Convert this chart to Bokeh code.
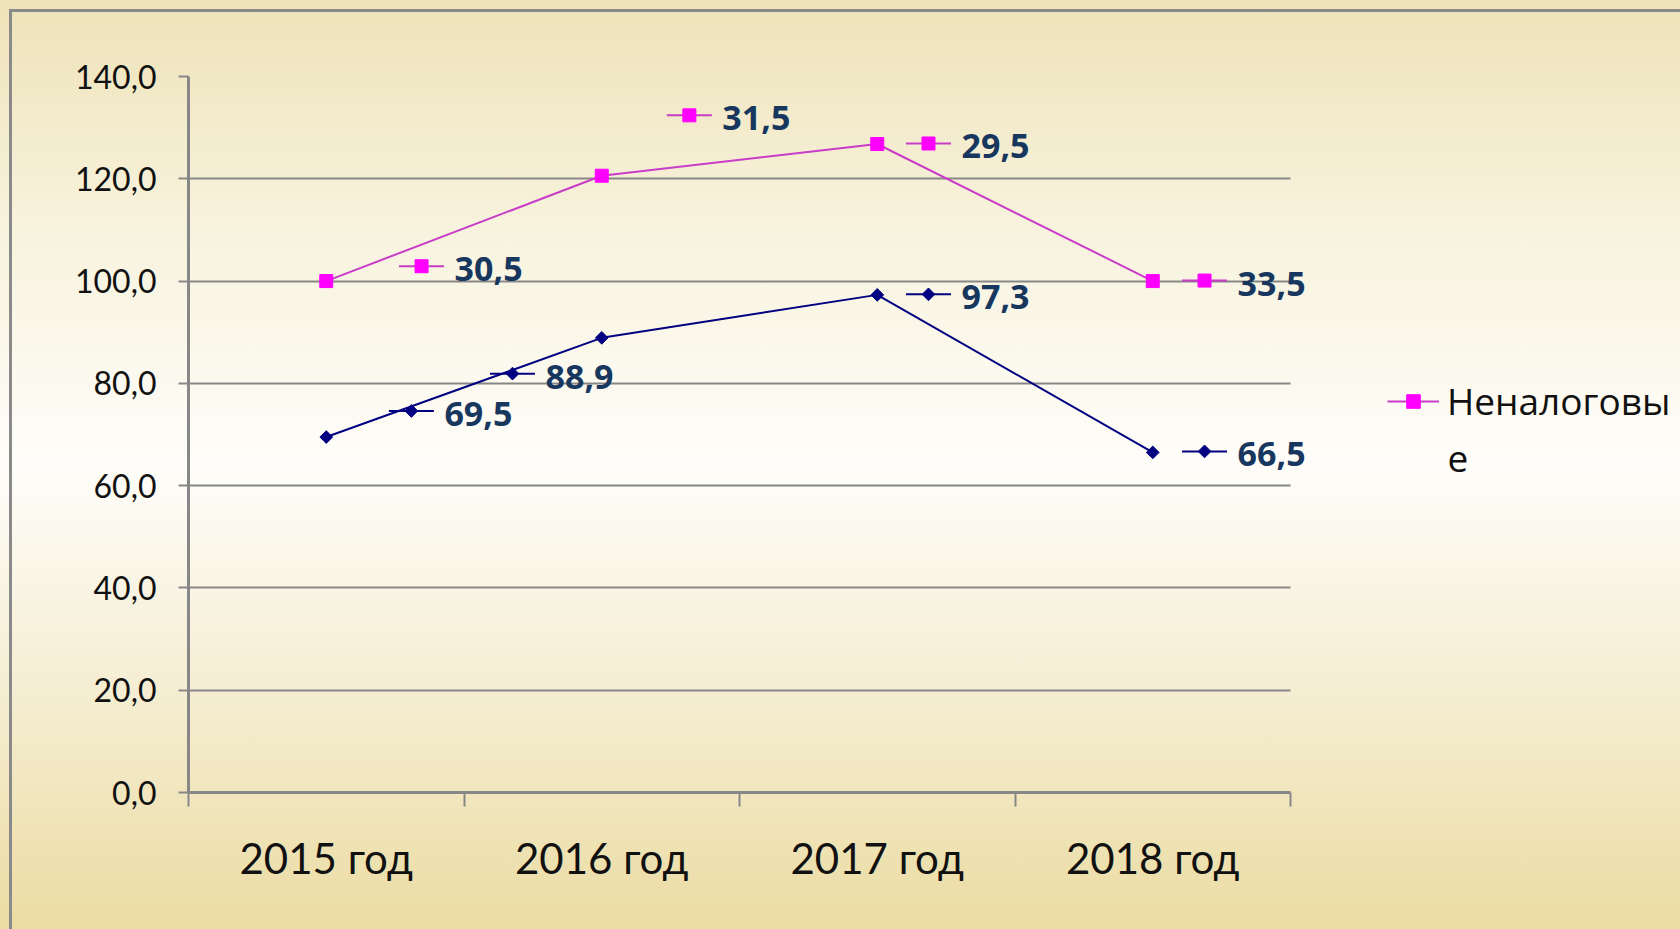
from bokeh.plotting import figure
from bokeh.models import (Range1d, FixedTicker, CustomJSTickFormatter, Legend,
                          LegendItem, ColumnDataSource, Label)
from bokeh.core.properties import value
from bokeh.embed import file_html
from bokeh.resources import INLINE
import math

# ---- data ----
categories = ["2015 год", "2016 год", "2017 год", "2018 год"]
nontax_values = [100.0, 120.6, 126.8, 100.0]
navy_values = [69.5, 88.9, 97.3, 66.5]
y_ticks = [0, 20, 40, 60, 80, 100, 120, 140]

nontax_labels = ["30,5", "31,5", "29,5", "33,5"]
nontax_label_x = [0.846, 1.818, 2.686, 3.688]
nontax_label_y = [102.9, 132.4, 126.9, 100.1]

navy_labels = ["69,5", "88,9", "97,3", "66,5"]
navy_label_x = [0.809, 1.176, 2.686, 3.688]
navy_label_y = [74.6, 81.9, 97.4, 66.7]

series_name = "Неналоговые"   # wrapped in the legend as "Неналоговы" / "е"

# ---- styles ----
GRID = "#878787"
MAGENTA_LINE = "#C83CC8"
MAGENTA = "#FF00FF"
NAVY = "#000080"
LABEL_COLOR = "#17375E"
TEXT = "#111111"

n = len(categories)
x_centers = [i + 0.5 for i in range(n)]

AXIS_PX = 1102          # width of the category axis in pixels
FRAME_W = 1492          # frame runs to the right edge (room for labels/legend)
x_end = n * FRAME_W / AXIS_PX

p = figure(width=1680, height=929, frame_width=FRAME_W, frame_height=716,
           min_border_left=188, min_border_right=0, min_border_top=76,
           min_border_bottom=137,
           x_range=Range1d(0, x_end), y_range=Range1d(0, 140),
           output_backend="svg", toolbar_location=None, tools="")

p.border_fill_color = None
p.background_fill_color = None
p.outline_line_color = None
p.styles = {
    "background": (
        "linear-gradient(#8a8a8a,#8a8a8a) 9px 9px / 100% 3px no-repeat, "
        "linear-gradient(#8a8a8a,#8a8a8a) 9px 9px / 3px 100% no-repeat, "
        "linear-gradient(to bottom, #EEE2B8 0%, #F8F3DE 25%, #FEFDF9 50%, "
        "#F6EFD6 72%, #EBDCA3 100%)"
    )
}

# axes
p.yaxis.ticker = FixedTicker(ticks=y_ticks)
p.yaxis.formatter = CustomJSTickFormatter(code="return tick.toFixed(1).replace('.', ',');")
p.yaxis.major_label_text_font = "Lato"
p.yaxis.major_label_text_font_size = "32px"
p.yaxis.major_label_text_color = TEXT
p.yaxis.major_label_standoff = 22
p.yaxis.major_tick_out = 10
p.yaxis.major_tick_in = 0
p.yaxis.minor_tick_line_color = None
p.yaxis.major_tick_line_color = GRID
p.yaxis.major_tick_line_width = 2
p.yaxis.axis_line_color = GRID
p.yaxis.axis_line_width = 3

p.xaxis.bounds = (0, n)
p.xaxis.ticker = FixedTicker(ticks=x_centers, minor_ticks=list(range(n + 1)))
p.xaxis.formatter = CustomJSTickFormatter(args=dict(labels=categories),
                                          code="return labels[Math.floor(tick)];")
p.xaxis.major_label_text_font = "Lato"
p.xaxis.major_label_text_font_size = "42px"
p.xaxis.major_label_text_color = TEXT
p.xaxis.major_label_standoff = 26
p.xaxis.major_tick_line_color = None
p.xaxis.major_tick_out = 14
p.xaxis.minor_tick_out = 14
p.xaxis.minor_tick_in = 0
p.xaxis.minor_tick_line_color = GRID
p.xaxis.minor_tick_line_width = 2
p.xaxis.axis_line_color = GRID
p.xaxis.axis_line_width = 3

p.xgrid.grid_line_color = None
p.ygrid.grid_line_color = GRID
p.ygrid.grid_line_width = 2
p.ygrid.cross_bounds = (0, n)

# series
nav_src = ColumnDataSource(dict(x=x_centers, y=navy_values))
nt_src = ColumnDataSource(dict(x=x_centers, y=nontax_values))

p.line("x", "y", source=nav_src, line_color=NAVY, line_width=2)
p.scatter("x", "y", source=nav_src, marker="square", angle=math.pi / 4, size=9,
          fill_color=NAVY, line_color=NAVY)

nt_line = p.line("x", "y", source=nt_src, line_color=MAGENTA_LINE, line_width=2)
nt_marks = p.scatter("x", "y", source=nt_src, marker="square", size=13,
                     fill_color=MAGENTA, line_color=MAGENTA)

# data labels with keys
nt_lab = ColumnDataSource(dict(x=nontax_label_x, y=nontax_label_y, t=nontax_labels))
nav_lab = ColumnDataSource(dict(x=navy_label_x, y=navy_label_y, t=navy_labels))

p.scatter("x", "y", source=nt_lab, marker="dash", size=45, line_color=MAGENTA_LINE, line_width=2)
p.scatter("x", "y", source=nt_lab, marker="square", size=13, fill_color=MAGENTA, line_color=MAGENTA)
p.scatter("x", "y", source=nav_lab, marker="dash", size=45, line_color=NAVY, line_width=2)
p.scatter("x", "y", source=nav_lab, marker="square", angle=math.pi / 4, size=9,
          fill_color=NAVY, line_color=NAVY)

for src in (nt_lab, nav_lab):
    p.text("x", "y", text="t", source=src, x_offset=33, y_offset=3,
           text_align="left", text_baseline="middle",
           text_font=value("Noto Sans"), text_font_style="bold",
           text_font_size="34px", text_color=LABEL_COLOR)

# legend (label wraps onto a second line as in the original)
legend = Legend(items=[LegendItem(label=value(series_name[:-1]), renderers=[nt_line, nt_marks])],
                location=(1199, 366), border_line_color=None,
                background_fill_alpha=0, padding=0, margin=0,
                glyph_width=52, glyph_height=34, label_standoff=8,
                label_text_font="Open Sans", label_text_font_size="37px",
                label_text_color=TEXT)
p.add_layout(legend)

wrap = Label(x=4.57, y=65.6, text=series_name[-1:], text_font="Open Sans",
             text_font_size="37px", text_color=TEXT, text_align="left",
             text_baseline="alphabetic")
p.add_layout(wrap)

open("out.html", "w").write(file_html(p, INLINE))
